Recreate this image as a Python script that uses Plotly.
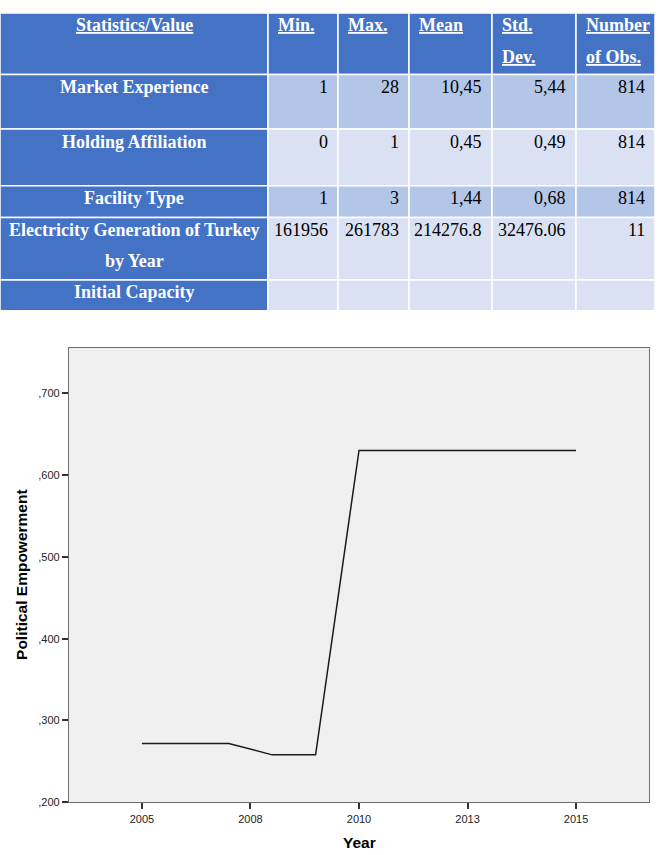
import plotly.graph_objects as go

# ---------------- data ----------------
table_headers = ["Statistics/Value", "Min.", "Max.", "Mean", "Std.\nDev.", "Number\nof Obs."]
row_labels = ["Market Experience", "Holding Affiliation", "Facility Type",
              "Electricity Generation of Turkey\nby Year", "Initial Capacity"]
col_min = ["1", "0", "1", "161956", ""]
col_max = ["28", "1", "3", "261783", ""]
col_mean = ["10,45", "0,45", "1,44", "214276.8", ""]
col_std = ["5,44", "0,49", "0,68", "32476.06", ""]
col_nobs = ["814", "814", "814", "11", ""]

years = [2005, 2006, 2007, 2008, 2009, 2010, 2011, 2012, 2013, 2014, 2015]
empowerment = [0.272, 0.272, 0.272, 0.258, 0.258, 0.630, 0.630, 0.630, 0.630, 0.630, 0.630]

x_tickvals = [2005, 2007.5, 2010, 2012.5, 2015]
x_ticktext = ["2005", "2008", "2010", "2013", "2015"]
y_tickvals = [0.2, 0.3, 0.4, 0.5, 0.6, 0.7]
y_ticktext = [",200", ",300", ",400", ",500", ",600", ",700"]

# ---------------- layout / style ----------------
W, H = 658, 855
table_top = 13
row_heights = [62, 55, 57, 32, 63, 31]
col_widths = [268, 70, 71, 83, 84, 79]
line_gap = 31.5
first_line = 12.5
pad = 8
DARK = "#4472C4"
MED = "#B4C6E7"
LIGHT = "#D9E1F2"
row_fill = [DARK, MED, LIGHT, MED, LIGHT, LIGHT]
serif = "Liberation Serif, Times New Roman, serif"
sans = "Liberation Sans, Arial, sans-serif"
table_font = 18

fig = go.Figure()

fig.add_trace(go.Scatter(x=years, y=empowerment, mode="lines",
                         line=dict(color="#1a1a1a", width=1.5),
                         xaxis="x", yaxis="y", showlegend=False, hoverinfo="x+y"))
# anchor trace for the table axes
fig.add_trace(go.Scatter(x=[], y=[], xaxis="x2", yaxis="y2", showlegend=False))

shapes = []
annotations = []

# chart background
shapes.append(dict(type="rect", xref="x domain", yref="y domain", x0=0, x1=1, y0=0, y1=1,
                   fillcolor="#f0f0f0", line=dict(width=0), layer="below"))

# table
body_cols = [col_min, col_max, col_mean, col_std, col_nobs]
col_edges = [0]
for w in col_widths:
    col_edges.append(col_edges[-1] + w)
row_edges = [table_top]
for h in row_heights:
    row_edges.append(row_edges[-1] + h)

for r in range(len(row_heights)):
    for c in range(len(col_widths)):
        fill = DARK if (r == 0 or c == 0) else row_fill[r]
        shapes.append(dict(type="rect", xref="x2", yref="y2",
                           x0=col_edges[c], x1=col_edges[c + 1],
                           y0=row_edges[r], y1=row_edges[r + 1],
                           fillcolor=fill, line=dict(color="white", width=1.5), layer="below"))
        if r == 0:
            text = table_headers[c]
        elif c == 0:
            text = row_labels[r - 1]
        else:
            text = body_cols[c - 1][r - 1]
        if not text:
            continue
        for i, ln in enumerate(text.split("\n")):
            y = row_edges[r] + first_line + i * line_gap
            if r == 0:
                t = "<b><u>%s</u></b>" % ln
                color = "white"
                if c == 0:
                    x, xa = (col_edges[c] + col_edges[c + 1]) / 2, "center"
                else:
                    x, xa = col_edges[c] + pad, "left"
            elif c == 0:
                t = "<b>%s</b>" % ln
                color = "white"
                x, xa = (col_edges[c] + col_edges[c + 1]) / 2, "center"
            else:
                t = ln
                color = "black"
                x, xa = col_edges[c + 1] - pad, "right"
            annotations.append(dict(xref="x2", yref="y2", x=x, y=y, text=t, showarrow=False,
                                    xanchor=xa, yanchor="middle",
                                    font=dict(family=serif, size=table_font, color=color)))

# axis titles
annotations.append(dict(xref="paper", yref="y domain", x=22 / W, y=0.5, text="<b>Political Empowerment</b>",
                        textangle=-90, showarrow=False, xanchor="center", yanchor="middle",
                        font=dict(family=sans, size=15.5, color="black")))
annotations.append(dict(xref="x domain", yref="paper", x=0.5, y=(H - 848) / H, text="<b>Year</b>",
                        showarrow=False, xanchor="center", yanchor="middle",
                        font=dict(family=sans, size=15.5, color="black")))

plot_left, plot_right, plot_top, plot_bottom = 69, 649, 350, 808
xpad = 1.68

fig.update_layout(
    width=W, height=H, margin=dict(l=0, r=0, t=0, b=0),
    paper_bgcolor="white", plot_bgcolor="rgba(0,0,0,0)",
    shapes=shapes, annotations=annotations, showlegend=False,
    xaxis=dict(domain=[plot_left / W, plot_right / W], anchor="y",
               range=[min(years) - xpad, max(years) + xpad],
               tickvals=x_tickvals, ticktext=x_ticktext,
               ticks="outside", ticklen=6, tickwidth=1.5, tickcolor="#333",
               showline=True, linecolor="#6e6e6e", linewidth=1.2, mirror=True,
               showgrid=False, zeroline=False,
               tickfont=dict(family=sans, size=11, color="#222")),
    yaxis=dict(domain=[(H - plot_bottom) / H, (H - plot_top) / H], anchor="x",
               range=[0.2, 0.7557],
               tickvals=y_tickvals, ticktext=y_ticktext,
               ticks="outside", ticklen=6, tickwidth=1.5, tickcolor="#333",
               showline=True, linecolor="#6e6e6e", linewidth=1.2, mirror=True,
               showgrid=False, zeroline=False,
               tickfont=dict(family=sans, size=11, color="#222")),
    xaxis2=dict(domain=[0, 1], anchor="y2", range=[0, W], visible=False, fixedrange=True),
    yaxis2=dict(domain=[0, 1], anchor="x2", range=[H, 0], visible=False, fixedrange=True),
)

fig.write_html("out.html")
